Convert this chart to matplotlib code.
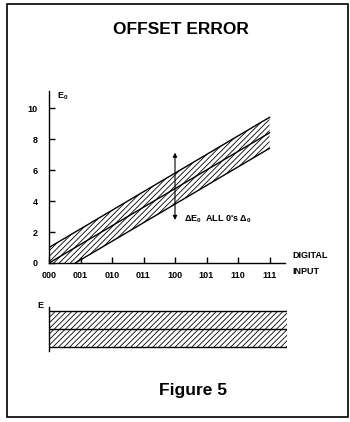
import numpy as np
import matplotlib
matplotlib.use("Agg")
import matplotlib.pyplot as plt
from matplotlib.patches import Rectangle

plt.rcParams['font.family'] = ['Liberation Sans', 'DejaVu Sans']
plt.rcParams['font.weight'] = 'bold'
plt.rcParams['mathtext.fontset'] = 'custom'
plt.rcParams['mathtext.rm'] = 'Liberation Sans:bold'
plt.rcParams['mathtext.default'] = 'rm'
plt.rcParams['hatch.linewidth'] = 0.6

# digital input codes along x
codes = ['000', '001', '010', '011', '100', '101', '110', '111']
y_ticks = [0, 2, 4, 6, 8, 10]

# ideal transfer line (code index -> E0) and offset band
line_x = [0, 7]
line_y = [0, 8.4]
offset = 1.0

# arrow marking the offset at code 100
arrow_x = 4
arrow_y = [2.6, 7.3]

fig = plt.figure(figsize=(3.5, 4.22), dpi=100)

# outer frame
fig.patches.append(Rectangle((7 / 350, 1 - 417 / 422), 341 / 350, 413 / 422,
                             transform=fig.transFigure, fill=False,
                             lw=1.2, ec='black'))

fig.text(181 / 350, 1 - 30 / 422, 'OFFSET ERROR', ha='center', va='center',
         fontsize=12.5, fontweight='bold')

# main transfer plot
ax = fig.add_axes([49 / 350, 1 - 263 / 422, 236.25 / 350, 172 / 422])
ax.set_xlim(0, 7.5)
ax.set_ylim(0, 11.1)
for s in ['top', 'right']:
    ax.spines[s].set_visible(False)
ax.spines['left'].set_linewidth(1.0)
ax.spines['bottom'].set_linewidth(1.0)
ax.tick_params(direction='in', length=4.5, width=1.0, labelsize=6.5)
ax.tick_params(axis='y', pad=8)
ax.tick_params(axis='x', pad=6)
ax.set_xticks(range(len(codes)))
ax.set_xticklabels(codes, fontweight='bold')
ax.set_yticks(y_ticks)
ax.set_yticklabels([str(v) for v in y_ticks], fontweight='bold')

slope = (line_y[1] - line_y[0]) / (line_x[1] - line_x[0])
x0_low = offset / slope
xs = np.array([line_x[0], x0_low, line_x[1]])
upper = slope * xs + offset
lower = np.clip(slope * xs - offset, 0, None)
ax.fill_between(xs, lower, upper, facecolor='none', edgecolor='black',
                hatch='//////', lw=0)
ax.plot(line_x, line_y, color='black', lw=1.0)
ax.plot(line_x, [y + offset for y in line_y], color='black', lw=1.0)
ax.plot([x0_low, line_x[1]], [0, line_y[1] - offset], color='black', lw=1.0)

ax.annotate('', xy=(arrow_x, arrow_y[1]), xytext=(arrow_x, arrow_y[0]),
            arrowprops=dict(arrowstyle='<|-|>', color='black', lw=0.8,
                            mutation_scale=6))
ax.text(4.3, 2.8, "ΔE$_0$  ALL 0's Δ$_0$", fontsize=6.5, va='center',
        fontweight='bold')
ax.text(0.25, 11.1, 'E$_0$', fontsize=6.5, va='top', fontweight='bold')
fig.text(292 / 350, 1 - 256 / 422, 'DIGITAL', fontsize=6.5, va='center',
         fontweight='bold')
fig.text(292 / 350, 1 - 271 / 422, 'INPUT', fontsize=6.5, va='center',
         fontweight='bold')

# lower band panel
ax2 = fig.add_axes([49 / 350, 1 - 351 / 422, 238 / 350, 44 / 422])
ax2.set_xlim(0, 7.56)
ax2.set_ylim(-0.22, 2.22)
for s in ['top', 'right', 'bottom']:
    ax2.spines[s].set_visible(False)
ax2.spines['left'].set_linewidth(1.0)
ax2.set_xticks([])
ax2.set_yticks([])
ax2.fill_between([0, 7.56], [0, 0], [2, 2], facecolor='none',
                 edgecolor='black', hatch='//////', lw=0)
for yv in [0, 1, 2]:
    ax2.axhline(yv, color='black', lw=1.0)
fig.text(40 / 350, 1 - 306 / 422, 'E', fontsize=6.5, va='center',
         ha='center', fontweight='bold')

fig.text(193 / 350, 1 - 390 / 422, 'Figure 5', ha='center', va='center',
         fontsize=12.5, fontweight='bold')

fig.savefig('out.png', dpi=100)
